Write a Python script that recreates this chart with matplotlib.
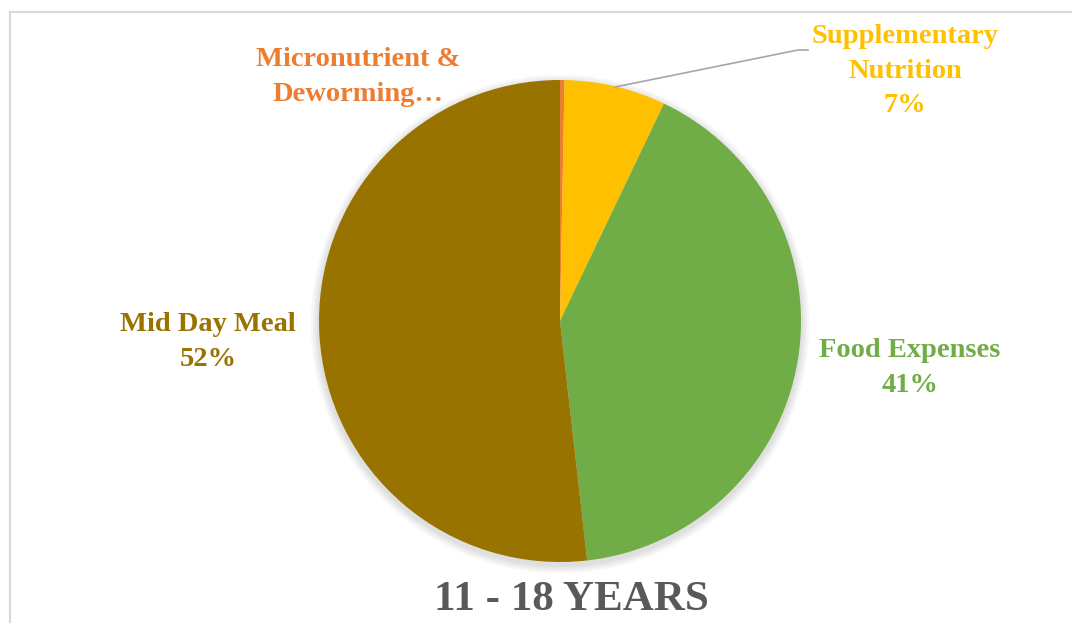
import matplotlib.pyplot as plt
from matplotlib.patches import Rectangle, Circle

labels = ['Micronutrient &\nDeworming\u2026', 'Supplementary\nNutrition', 'Food Expenses', 'Mid Day Meal']
values = [0.3, 6.8, 41.1, 51.8]
pcts = ['', '7%', '41%', '52%']
colors = ['#ED7D31', '#FFC000', '#70AD47', '#997300']
title = '11 - 18 YEARS'

W, H = 1072, 623
fig = plt.figure(figsize=(W / 100, H / 100), dpi=100)
ax = fig.add_axes([0, 0, 1, 1])

# chart frame
ax.add_patch(Rectangle((10, -20), W + 20, H - 12 + 20, fill=False, edgecolor='#D9D9D9', lw=1.5))

cx, cy, r = 560, H - 321, 241

# soft shadow
for i in range(4):
    ax.add_patch(Circle((cx, cy - 3), r + 2 + i * 2, color='black', alpha=0.03, lw=0))

wedges, _ = ax.pie(values, colors=colors, startangle=90, counterclock=False,
                   center=(cx, cy), radius=r, frame=True,
                   wedgeprops=dict(linewidth=0))
ax.set_xlim(0, W)
ax.set_ylim(0, H)
ax.set_aspect('equal')
ax.axis('off')

font = dict(family='Liberation Serif', weight='bold', fontsize=20.5)
pos = [(358, 77), (905, 71), (910, 368), (208, 342)]
for lab, p, c, (x, y) in zip(labels, pcts, colors, pos):
    txt = lab + ('\n' + p if p else '')
    ax.text(x, H - y, txt, ha='center', va='center', color=c, linespacing=1.52, **font)

# leader line for supplementary nutrition
ax.plot([615, 798, 808], [H - 87, H - 50, H - 50], color='#A6A6A6', lw=1.2)

ax.text(571, H - 600, title, ha='center', va='center', color='#595959',
        family='Liberation Serif', weight='bold', fontsize=31)

fig.savefig('out.png', dpi=100)
